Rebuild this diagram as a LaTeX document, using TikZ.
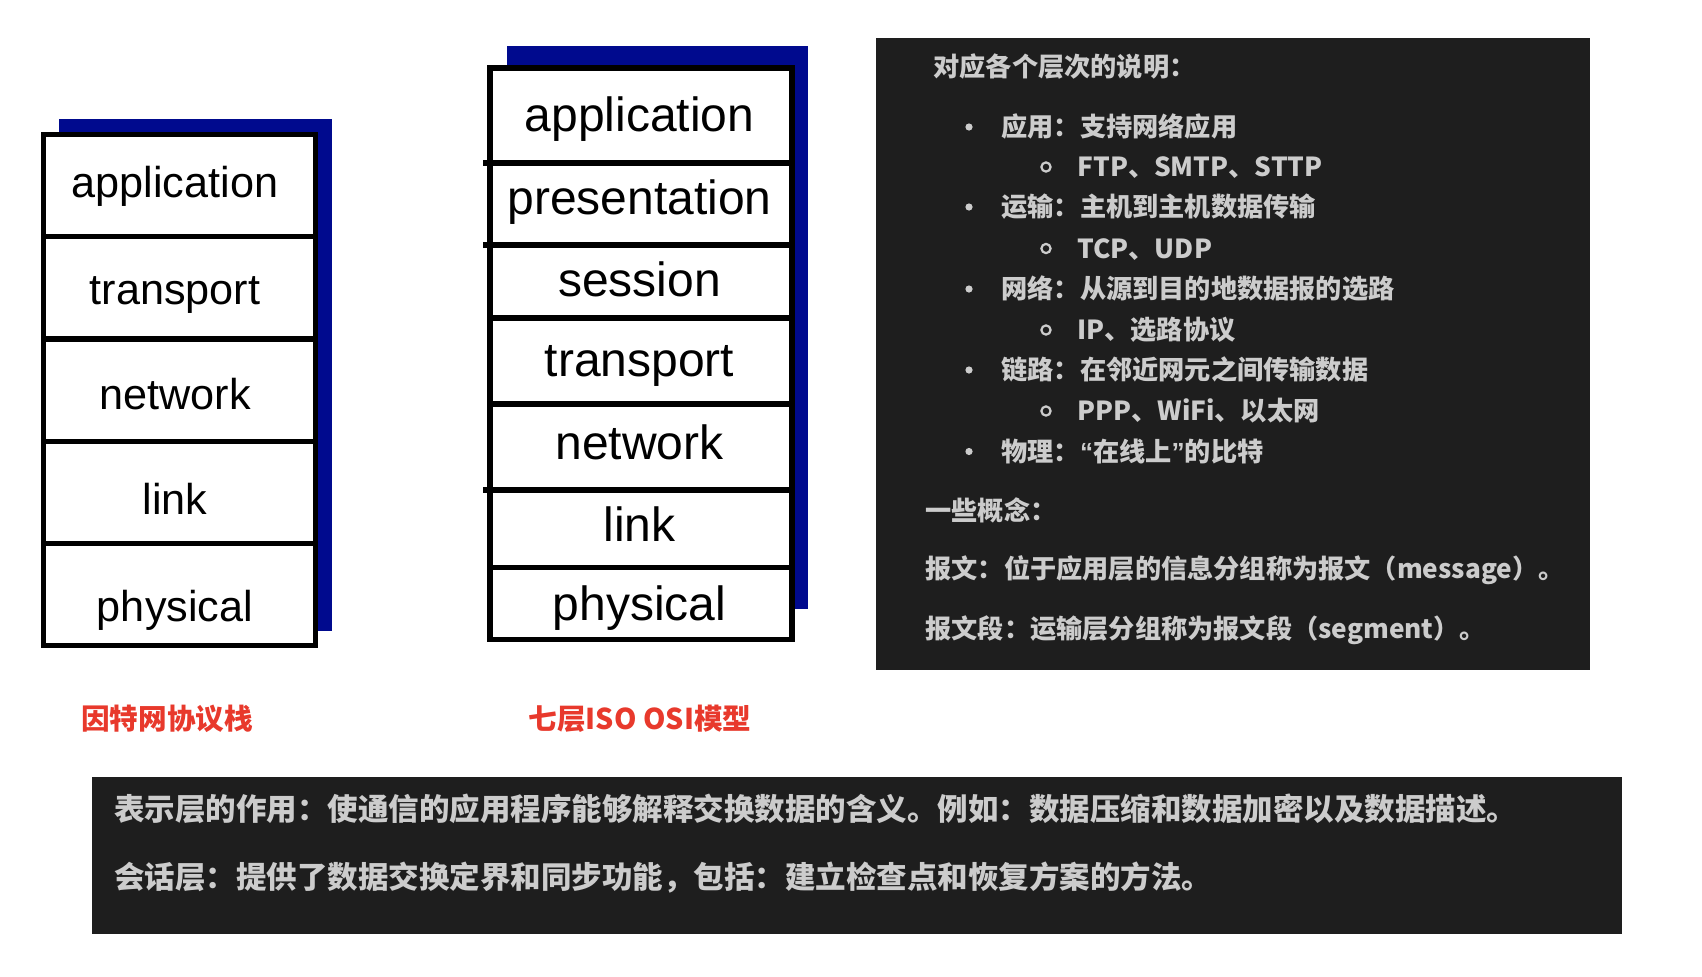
\documentclass[tikz,border=0pt]{standalone}
\usepackage{fontspec}
\setmainfont{Liberation Sans}
\newfontfamily\cjk{Noto Sans CJK SC}
\usetikzlibrary{positioning,calc,backgrounds}
\definecolor{StackBlue}{HTML}{000A8E}
\definecolor{NoteBg}{HTML}{1E1E1E}
\definecolor{NoteInk}{HTML}{CCCCCC}
\definecolor{CaptionRed}{HTML}{E8392C}

\begin{document}
\begin{tikzpicture}[x=0.5pt,y=-0.5pt,
    ilayer/.style={rectangle,draw=black,fill=white,line width=2.6pt,inner sep=0pt,outer sep=0pt,
      minimum width=136pt,minimum height=51.1pt},
    olayer/.style={rectangle,draw=black,fill=white,line width=2.8pt,inner sep=0pt,outer sep=0pt,
      minimum width=151pt},
    itext/.style={inner sep=0pt,text height=16.4pt,text depth=0pt,font=\fontsize{21.6pt}{26pt}\selectfont},
    otext/.style={inner sep=0pt,text height=17.3pt,text depth=5pt,font=\fontsize{24pt}{29pt}\selectfont},
    caption/.style={text=CaptionRed,inner sep=0pt,font=\cjk\bfseries\fontsize{14.3pt}{17pt}\selectfont},
    notebox/.style={fill=NoteBg,inner sep=0pt,outer sep=0pt,anchor=north west},
    note/.style={anchor=west,inner sep=0pt,text=NoteInk,text height=11.5pt,text depth=1.6pt,
      font=\cjk\bfseries\fontsize{13.1pt}{16pt}\selectfont},
    longnote/.style={note,text height=13.5pt,text depth=1.8pt,font=\cjk\bfseries\fontsize{15.25pt}{18pt}\selectfont},
    dot/.style={circle,fill=NoteInk,inner sep=0pt,minimum size=3.6pt},
    ring/.style={circle,draw=NoteInk,line width=1.1pt,inner sep=0pt,minimum size=4.6pt}
  ]
  \useasboundingbox (0,0) rectangle (1702,976);

  % Internet protocol stack
  \node[ilayer] (iapp) at (179.4,185.6) {};
  \node[ilayer,below=0pt of iapp] (itra) {};
  \node[ilayer,below=0pt of itra] (inet) {};
  \node[ilayer,below=0pt of inet] (ilnk) {};
  \node[ilayer,below=0pt of ilnk] (iphy) {};
  \node[itext] (iappt) at (175,181.3) {application};
  \node[itext] (itrat) at (175,287.7) {transport};
  \node[itext] (inett) at (175,393) {network};
  \node[itext] (ilnkt) at (175,498.2) {link};
  \node[itext] (iphyt) at (175,604.6) {physical};

  % ISO OSI model
  \node[olayer,minimum height=47.5pt] (oapp) at (641,115.5) {};
  \node[olayer,minimum height=41pt,below=0pt of oapp] (opre) {};
  \node[olayer,minimum height=36.5pt,below=0pt of opre] (oses) {};
  \node[olayer,minimum height=43pt,below=0pt of oses] (otra) {};
  \node[olayer,minimum height=43pt,below=0pt of otra] (onet) {};
  \node[olayer,minimum height=38.75pt,below=0pt of onet] (olnk) {};
  \node[olayer,minimum height=36pt,below=0pt of olnk] (ophy) {};
  \foreach \n in {opre,oses,olnk}
    \draw[line width=2.8pt] ($(\n.north west)+(-7,0)$) -- (\n.north west);
  \node[otext] (oappt) at (639.5,118.9) {application};
  \node[otext] (opret) at (639.5,202.4) {presentation};
  \node[otext] (osest) at (639.5,283.9) {session};
  \node[otext] (otrat) at (639.5,364.2) {transport};
  \node[otext] (onett) at (639.5,446.7) {network};
  \node[otext] (olnkt) at (639.5,529.2) {link};
  \node[otext] (ophyt) at (639.5,608.4) {physical};

  % Shadows
  \begin{scope}[on background layer]
    \fill[white] (0,0) rectangle (1702,976);
    \fill[StackBlue] ($(iapp.north west)+(16,-15.5)$) rectangle ($(iphy.south east)+(16.5,-14.5)$);
    \fill[StackBlue] ($(oapp.north west)+(17,-22)$) rectangle ($(ophy.south east)+(16,-30.5)$);
  \end{scope}

  % Captions
  \node[caption] (icap) at (167,719) {因特网协议栈};
  \node[caption] (ocap) at (640,719) {七层ISO OSI模型};

  % Layer notes
  \node[notebox,minimum width=357pt,minimum height=316pt] (layernotes) at (876,38) {};
  \node[note] (nhead) at (933,67) {对应各个层次的说明：};
  \node[dot] (d1) at (969,127) {};
  \node[note] (n1) at (1001,127) {应用：支持网络应用};
  \node[ring] (r1) at (1046,167) {};
  \node[note] (s1) at (1077,167) {FTP、SMTP、STTP};
  \node[dot] (d2) at (969,207) {};
  \node[note] (n2) at (1001,207) {运输：主机到主机数据传输};
  \node[ring] (r2) at (1046,248.5) {};
  \node[note] (s2) at (1077,248.5) {TCP、UDP};
  \node[dot] (d3) at (969,289) {};
  \node[note] (n3) at (1001,289) {网络：从源到目的地数据报的选路};
  \node[ring] (r3) at (1046,330) {};
  \node[note] (s3) at (1077,330) {IP、选路协议};
  \node[dot] (d4) at (969,370) {};
  \node[note] (n4) at (1001,370) {链路：在邻近网元之间传输数据};
  \node[ring] (r4) at (1046,411) {};
  \node[note] (s4) at (1077,411) {PPP、WiFi、以太网};
  \node[dot] (d5) at (969,451.5) {};
  \node[note] (n5) at (1001,451.5) {物理：{\rmfamily\bfseries “}在线上{\rmfamily\bfseries ”}的比特};
  \node[note] (nterm) at (925,511) {一些概念：};
  \node[note] (nmsg) at (925,569) {报文：位于应用层的信息分组称为报文（message）。};
  \node[note] (nseg) at (925,628.5) {报文段：运输层分组称为报文段（segment）。};

  % Presentation and session notes
  \node[notebox,minimum width=765pt,minimum height=78.5pt] (rolenotes) at (92,777) {};
  \node[longnote] (npre) at (114,809) {表示层的作用：使通信的应用程序能够解释交换数据的含义。例如：数据压缩和数据加密以及数据描述。};
  \node[longnote] (nses) at (114,877) {会话层：提供了数据交换定界和同步功能，包括：建立检查点和恢复方案的方法。};
\end{tikzpicture}
\end{document}
